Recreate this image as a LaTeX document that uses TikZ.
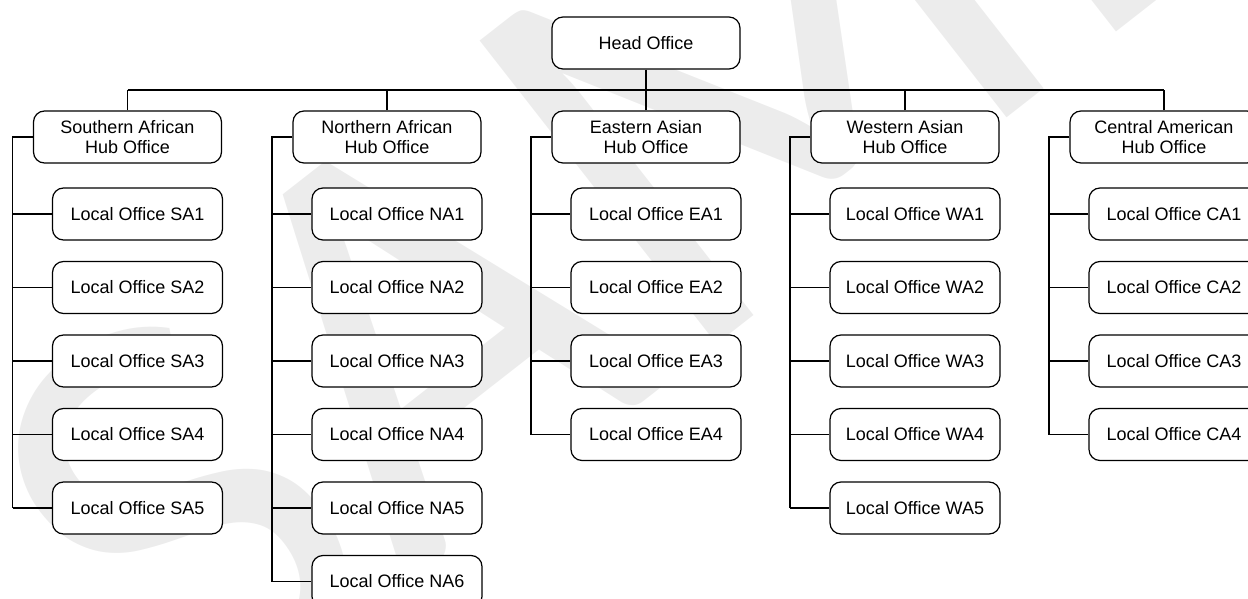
\documentclass[tikz,border=0pt]{standalone}
\usepackage{fontspec}
\setmainfont{Liberation Sans}
\newfontfamily\wmfont{Carlito}
\usetikzlibrary{positioning}

\tikzset{
  hubbox/.style={draw, fill=white, rounded corners=11pt, minimum width=188pt, minimum height=52pt,
    align=center, line width=1.2pt, font=\fontsize{18}{20.5}\selectfont},
  localbox/.style={hubbox, minimum width=170pt},
  link/.style={line width=1.2pt}
}

\begin{document}
\begin{tikzpicture}[x=1pt,y=-1pt]
	\clip (0,0) rectangle (1248,599);
	%watermark
	\node[text=gray!15, rotate=38, font=\wmfont\fontsize{600}{600}\selectfont] (wm) at (855,-8) {SAMPLE};
	\node[hubbox] (head) at (646,43) {Head Office};
	\coordinate (bus) at (646,90);
	\draw[link] (head.south) -- (bus);
	%hubs with their local offices
	\foreach \id/\cx/\name/\n in {SA/127.5/Southern African/5, NA/387/Northern African/6,
		EA/646/Eastern Asian/4, WA/905/Western Asian/5, CA/1164/Central American/4} {
		\node[hubbox] (\id) at (\cx,137) {\name\\Hub Office};
		\draw[link] (\id.north) -- (\id.north |- bus);
		\coordinate (\id-t) at (\cx-115,137);
		\foreach \i in {1,...,\n} {
			\node[localbox] (\id-\i) at (\cx+10,140.5+73.5*\i) {Local Office \id\i};
			\draw[link] (\id-t |- \id-\i) -- (\id-\i.west);
		}
		\draw[link] (\id.west) -- (\id-t) -- (\id-t |- \id-\n);
	}
	\draw[link] (SA.north |- bus) -- (CA.north |- bus);
\end{tikzpicture}
\end{document}
